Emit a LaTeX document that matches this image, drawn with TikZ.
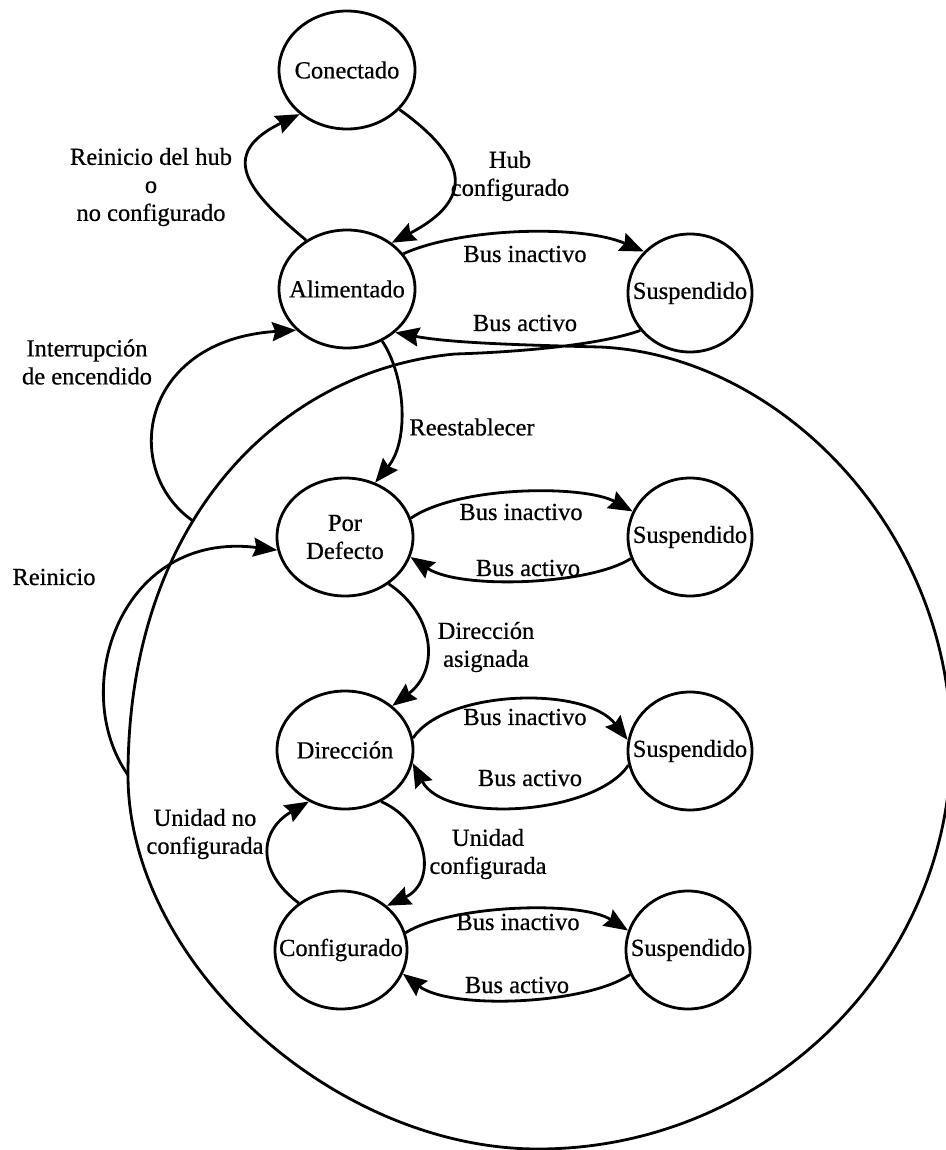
\documentclass[tikz,border=0pt]{standalone}
\usepackage{fontspec}
\setmainfont{Liberation Serif}[FakeBold=0.6]
\usetikzlibrary{shapes.geometric,arrows.meta}
% zero-width box so the text never enlarges the state ellipse
\newcommand\nw[1]{\makebox[0pt]{#1}}

\begin{document}
\begin{tikzpicture}[x=1pt,y=-1pt,
  every node/.style={font=\fontsize{24.5}{28}\selectfont},
  state/.style={ellipse,draw,line width=2.8pt,minimum width=136pt,minimum height=118pt,inner sep=0pt},
  susp/.style={state,minimum width=124pt},
  lbl/.style={align=center,inner sep=0pt},
  tr/.style={line width=2.8pt,-{Stealth[length=24pt,width=19pt,inset=3pt]}}
]
\path[fill=white,use as bounding box] (0,0) rectangle (945,1150);

% states
\node[state] (co) at (347,70)  {\nw{Conectado}};
\node[state] (al) at (347,289) {\nw{Alimentado}};
\node[susp]  (s1) at (690,293) {\nw{Suspendido}};
\node[state,align=center] (pd) at (345,537) {\nw{Por}\\\nw{Defecto}};
\node[susp]  (s2) at (690,537) {\nw{Suspendido}};
\node[state] (di) at (345,750) {\nw{Dirección}};
\node[susp]  (s3) at (690,751) {\nw{Suspendido}};
\node[state,minimum width=132pt] (cf) at (341,950) {\nw{Configurado}};
\node[susp]  (s4) at (688,950) {\nw{Suspendido}};

% points on the large enclosing loop
\coordinate (ie) at (193,521);
\coordinate (rs) at (128,775);

% transitions
\draw[tr] (al.130) .. controls (250,193) and (215,155) .. (co.223);
\draw[tr] (co.323) .. controls (470,160) and (474,200) .. (al.46);
\draw[tr] (al.32)  .. controls (460,228) and (580,224) .. (s1.138);
\draw[tr] (s1.217) .. controls (600,345) and (520,352) .. (455,354)
          .. controls (280,370) and (128,520) .. (rs)
          .. controls (128,962) and (333,1149) .. (538,1149)
          .. controls (765,1149) and (951,967) .. (951,745)
          .. controls (951,530) and (780,355) .. (600,347)
          .. controls (520,345) and (450,343) .. (al.-42);
\draw[tr] (ie) .. controls (120,470) and (140,340) .. (al.219);
\draw[tr] (rs) .. controls (68,690) and (120,530) .. (pd.191);
\draw[tr] (al.304) .. controls (405,375) and (410,440) .. (pd.61);
\draw[tr] (pd.16)  .. controls (460,485) and (585,485) .. (s2.156);
\draw[tr] (s2.200) .. controls (590,585) and (460,590) .. (pd.343);
\draw[tr] (pd.313) .. controls (435,615) and (440,670) .. (di.43);
\draw[tr] (di.10)  .. controls (445,690) and (585,685) .. (s3.170);
\draw[tr] (s3.193) .. controls (595,815) and (445,825) .. (di.349);
\draw[tr] (di.305) .. controls (428,822) and (438,882) .. (cf.44);
\draw[tr] (cf.132) .. controls (255,870) and (260,830) .. (di.235);
\draw[tr] (cf.15)  .. controls (450,905) and (580,900) .. (s4.162);
\draw[tr] (s4.203) .. controls (585,1005) and (450,1010) .. (cf.339);

% transition labels
\node[lbl] (t1)  at (151,187) {Reinicio del hub\\o\\no configurado};
\node[lbl] (t2)  at (510,176) {Hub\\configurado};
\node[lbl] (t3)  at (525,254) {Bus inactivo};
\node[lbl] (t4)  at (525,323) {Bus activo};
\node[lbl] (t5)  at (87,362)  {Interrupción\\de encendido};
\node[lbl] (t6)  at (472,427) {Reestablecer};
\node[lbl] (t7)  at (521,512) {Bus inactivo};
\node[lbl] (t8)  at (528,568) {Bus activo};
\node[lbl] (t9)  at (54,577)  {Reinicio};
\node[lbl] (t10) at (486,647) {Dirección\\asignada};
\node[lbl] (t11) at (525,717) {Bus inactivo};
\node[lbl] (t12) at (530,778) {Bus activo};
\node[lbl] (t13) at (205,834) {Unidad no\\configurada};
\node[lbl] (t14) at (488,854) {Unidad\\configurada};
\node[lbl] (t15) at (518,922) {Bus inactivo};
\node[lbl] (t16) at (517,985) {Bus activo};
\end{tikzpicture}
\end{document}
